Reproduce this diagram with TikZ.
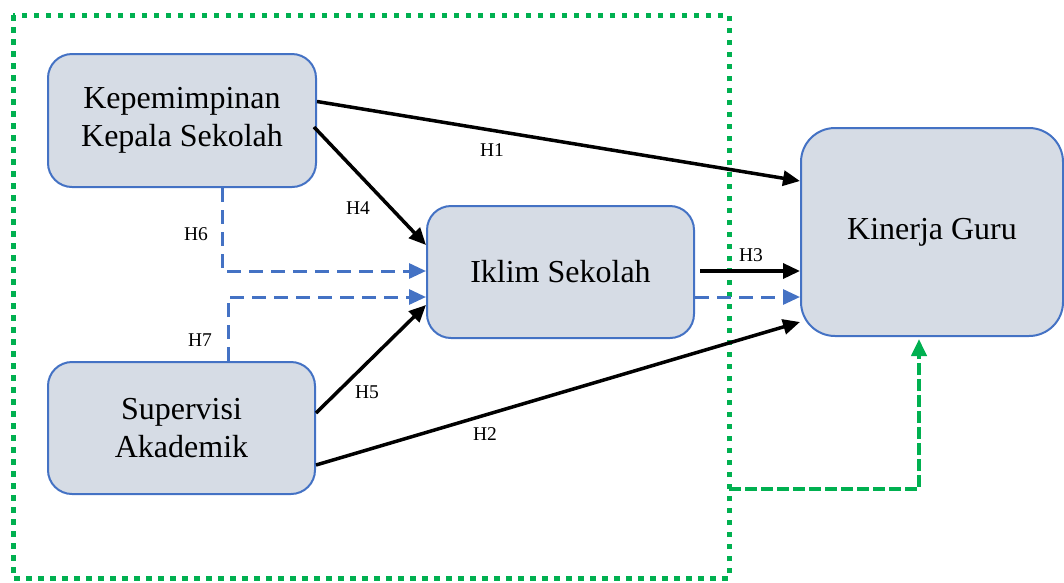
\documentclass[tikz,border=0pt]{standalone}
\usepackage{fontspec}
\setmainfont{Liberation Serif}
\usetikzlibrary{arrows.meta,calc}
\definecolor{boxblue}{HTML}{4472C4}
\definecolor{boxfill}{HTML}{D6DCE5}
\definecolor{frgreen}{HTML}{00B050}
\tikzset{
  varbox/.style={draw=boxblue,line width=2pt,fill=boxfill,rounded corners=24pt,
    align=center,font=\fontsize{32}{38}\selectfont,inner sep=0pt},
  harrow/.style={line width=3.5pt,-{Triangle[length=17pt,width=15pt]}},
  medarrow/.style={draw=boxblue,line width=3pt,dash pattern=on 14pt off 8pt,
    -{Triangle[length=17pt,width=15pt]}},
  hlabel/.style={font=\fontsize{19.5}{22}\selectfont,inner sep=0pt},
  frame/.style={draw=frgreen,line width=5pt,dash pattern=on 5.5pt off 6.5pt},
  fbarrow/.style={draw=frgreen,line width=4pt,dash pattern=on 12pt off 4pt,
    -{Triangle[length=17pt,width=15pt]}}
}
\begin{document}
\begin{tikzpicture}[x=1pt,y=-1pt]
\useasboundingbox (0,0) rectangle (1064,582);
% frame
\coordinate (f1) at (13,15);
\coordinate (f2) at (729,578);
\coordinate (fb) at (729,489);
\draw[frame] (f1) rectangle (f2);
% nodes
\node[varbox,minimum width=268pt,minimum height=133pt] (kks) at (182,120.5) {Kepemimpinan\\Kepala Sekolah};
\node[varbox,minimum width=267pt,minimum height=132pt] (sup) at (181.5,428) {Supervisi\\Akademik};
\node[varbox,minimum width=267pt,minimum height=132pt] (ikl) at (560.5,272) {Iklim Sekolah};
\node[varbox,minimum width=262pt,minimum height=208pt,rounded corners=34pt] (kin) at (932,232) {\raisebox{-5pt}{Kinerja Guru}};
% black arrows
\draw[harrow] ([yshift=19pt]kks.east) -- ([yshift=51pt]kin.west);
\draw[harrow] ([xshift=-3pt,yshift=-6.5pt]kks.east) -- ([yshift=27pt]ikl.west);
\draw[harrow] ([yshift=15pt]sup.east) -- ([yshift=-33pt]ikl.west);
\draw[harrow] ([yshift=-37pt]sup.east) -- ([yshift=-90pt]kin.west);
\draw[harrow] ([xshift=5pt,yshift=1pt]ikl.east) -- ([yshift=1pt]ikl.east -| kin.west);
% blue dashed
\draw[medarrow] ([xshift=40pt]kks.south) |- ([yshift=1pt]ikl.west);
\draw[medarrow] ([xshift=46.5pt]sup.north) |- ([yshift=-25pt]ikl.west);
\draw[medarrow] ([yshift=-25pt]ikl.east) -- ([yshift=-25pt]ikl.east -| kin.west);
% green feedback
\draw[fbarrow] (fb) -| ([xshift=-13pt,yshift=-2pt]kin.south);
% labels
\node[hlabel] (h1) at (492,150) {H1};
\node[hlabel] (h2) at (485,434) {H2};
\node[hlabel] (h3) at (751,255) {H3};
\node[hlabel] (h4) at (358,208) {H4};
\node[hlabel] (h5) at (367,392) {H5};
\node[hlabel] (h6) at (196,234) {H6};
\node[hlabel] (h7) at (200,340) {H7};
\end{tikzpicture}
\end{document}
